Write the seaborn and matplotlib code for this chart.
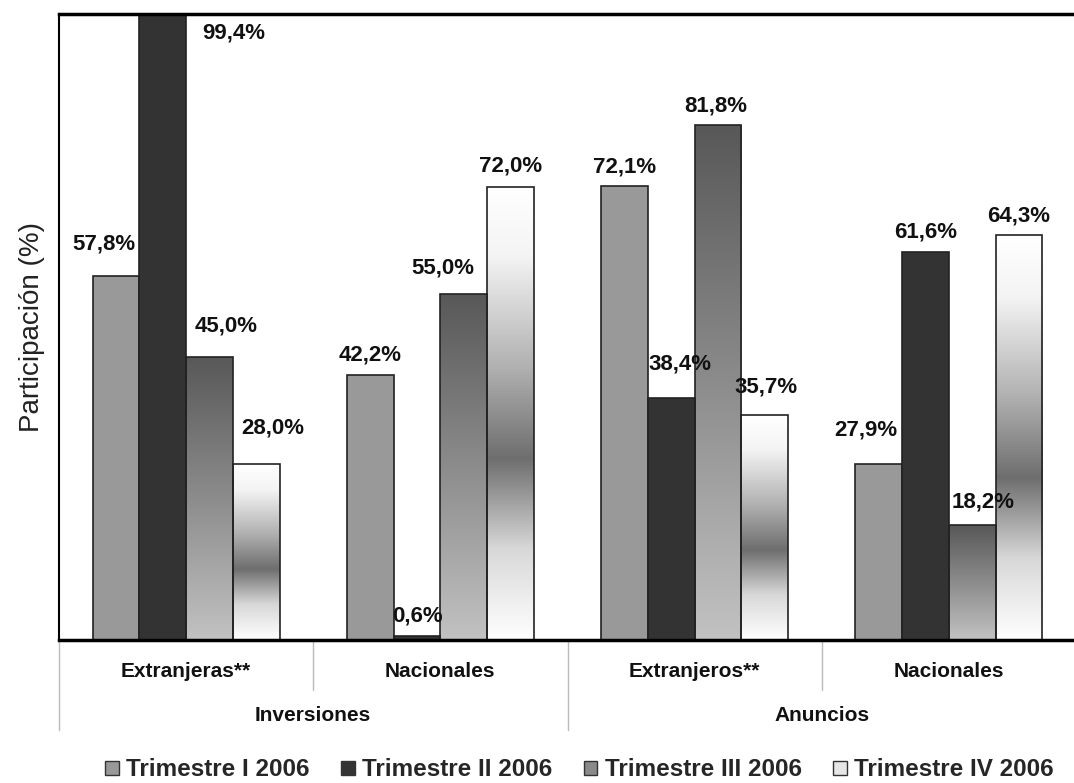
import numpy as np
import pandas as pd
import matplotlib
matplotlib.use("Agg")
import matplotlib.pyplot as plt
import matplotlib.transforms as mtransforms
from matplotlib.colors import LinearSegmentedColormap
from matplotlib.patches import Patch
import seaborn as sns

# ---- data ----
groups = ["Inversiones", "Inversiones", "Anuncios", "Anuncios"]
categories = ["Extranjeras**", "Nacionales", "Extranjeros**", "Nacionales"]
series = ["Trimestre I 2006", "Trimestre II 2006", "Trimestre III 2006", "Trimestre IV 2006"]
trim_1 = [57.8, 42.2, 72.1, 27.9]
trim_2 = [99.4, 0.6, 38.4, 61.6]
trim_3 = [45.0, 55.0, 81.8, 18.2]
trim_4 = [28.0, 72.0, 35.7, 64.3]
values = [trim_1, trim_2, trim_3, trim_4]

# label offsets in pixels (dx, dy) relative to the bar top centre
label_offsets = [
    [(-12, 32), (0, 20), (0, 19), (-13, 34)],
    [(71, -18), (0, 20), (9, 34), (0, 20)],
    [(17, 31), (-21, 26), (-2, 19), (11, 23)],
    [(17, 36), (0, 21), (1, 28), (0, 19)],
]

keys = [f"{g}|{c}|{i}" for i, (g, c) in enumerate(zip(groups, categories))]
rows = []
for s, vals in zip(series, values):
    for k, v in zip(keys, vals):
        rows.append({"key": k, "serie": s, "valor": v})
df = pd.DataFrame(rows)

sns.set_theme(style="white")
plt.rcParams["font.family"] = ["Liberation Sans", "DejaVu Sans"]

fig = plt.figure(figsize=(10.74, 7.83), dpi=100)
ax = fig.add_axes([59 / 1074, 143 / 783, 1017 / 1074, 626 / 783])

palette = {series[0]: "#999999", series[1]: "#333333",
           series[2]: "#8a8a8a", series[3]: "#e6e6e6"}
sns.barplot(data=df, x="key", y="valor", hue="serie", order=keys,
            hue_order=series, palette=palette, width=0.735, dodge=True,
            edgecolor="#222222", linewidth=1.2, saturation=1,
            ax=ax, legend=False)

cmap3 = LinearSegmentedColormap.from_list(
    "g3", [(0, "#585858"), (0.5, "#8c8c8c"), (1, "#c2c2c2")])
cmap4 = LinearSegmentedColormap.from_list(
    "g4", [(0, "#ffffff"), (0.15, "#f4f4f4"), (0.4, "#b0b0b0"),
           (0.6, "#6e6e6e"), (0.8, "#d8d8d8"), (1, "#ffffff")])
grad = np.linspace(0, 1, 256).reshape(-1, 1)

for si, cont in enumerate(ax.containers):
    for ci, patch in enumerate(cont.patches):
        x0 = patch.get_x()
        w = patch.get_width()
        h = patch.get_height()
        if si in (2, 3):
            cm = cmap3 if si == 2 else cmap4
            im = ax.imshow(grad, extent=[x0, x0 + w, 0, h], origin="upper",
                           aspect="auto", cmap=cm, vmin=0, vmax=1,
                           zorder=patch.get_zorder() - 0.05,
                           interpolation="bilinear")
            im.set_clip_path(patch)
            patch.set_facecolor("none")
        v = values[si][ci]
        dx, dy = label_offsets[si][ci]
        ax.annotate(f"{v:.1f}%".replace(".", ","), xy=(x0 + w / 2, h),
                    xytext=(dx, dy), textcoords="offset pixels",
                    ha="center", va="center", fontsize=16,
                    fontweight="bold", color="#111111", zorder=5,
                    annotation_clip=False)

ax.set_xlim(-0.5, 3.5)
ax.set_ylim(0, 99.5)
ax.set_xticks([])
ax.set_yticks([])
ax.set_xlabel("")
ax.set_ylabel("Participación (%)", fontsize=20, color="#222222", labelpad=10)

ax.spines["right"].set_visible(False)
ax.spines["top"].set_linewidth(2.5)
ax.spines["bottom"].set_linewidth(2.5)
ax.spines["left"].set_linewidth(1.5)
for side in ["top", "bottom", "left"]:
    ax.spines[side].set_color("black")

trans = mtransforms.blended_transform_factory(ax.transData, ax.transAxes)
for i, c in enumerate(categories):
    ax.text(i, -0.051, c, transform=trans, ha="center", va="center",
            fontsize=15, fontweight="bold", color="#111111")
group_names = ["Inversiones", "Anuncios"]
for gi, g in enumerate(group_names):
    ax.text(2 * gi + 0.5, -0.121, g, transform=trans, ha="center",
            va="center", fontsize=15, fontweight="bold", color="#111111")

# separators below the axis
for xpos, depth in [(-0.5, -0.144), (0.5, -0.08), (1.5, -0.144), (2.5, -0.08)]:
    ax.plot([xpos, xpos], [0, depth], transform=trans, color="#bbbbbb",
            lw=1.0, clip_on=False, zorder=0)

handles = [Patch(facecolor=palette[s], edgecolor="#333333", linewidth=1.0)
           for s in series]
fig.legend(handles, series, ncol=4, loc="center left",
           bbox_to_anchor=(105 / 1074, 13 / 783), frameon=False,
           prop={"size": 17.5, "weight": "bold"}, handlelength=0.56,
           handleheight=0.56, handletextpad=0.3, columnspacing=1.3,
           borderpad=0, borderaxespad=0)

fig.savefig("out.png", dpi=100)
